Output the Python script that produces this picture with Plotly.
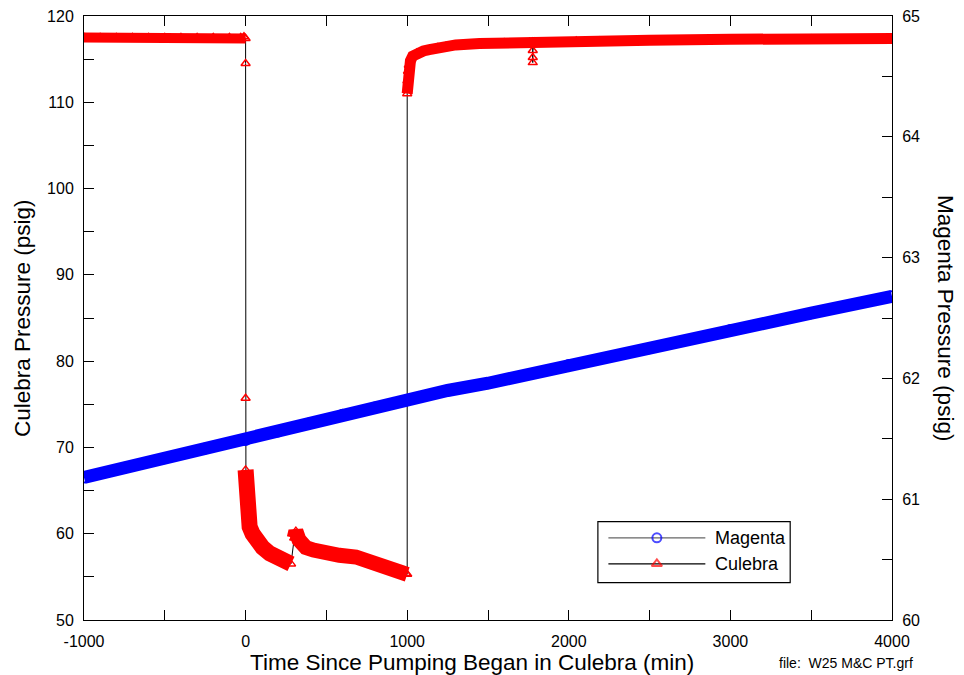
import plotly.graph_objects as go

# ---------------- data ----------------
# Culebra pressure (psig), left axis
pre_t = [-1000, -900, -800, -700, -600, -500, -400, -300, -200, -100, -30, -10, 0]
pre_p = [117.5, 117.5, 117.5, 117.5, 117.5, 117.5, 117.5, 117.5, 117.5, 117.5, 117.5, 117.6, 117.4]

jump_t = [0, 0]
jump_p = [114.5, 75.7]

dd1_t = [0, 2, 5, 12, 25, 43, 70, 105, 150, 188, 230, 281]
dd1_p = [67.4, 65.5, 64.2, 61.9, 60.8, 60.0, 59.1, 58.4, 57.7, 57.3, 56.9, 56.5]

dd2_t = [301, 311, 330, 373, 420, 456, 520, 580, 683, 740, 786, 890, 993, 1000]
dd2_p = [59.5, 60.3, 59.3, 58.4, 58.1, 57.9, 57.6, 57.5, 57.3, 57.0, 56.5, 55.9, 55.4, 55.3]

rec_t = [1000, 1002, 1005, 1010, 1020, 1034, 1060, 1100, 1137, 1190, 1240, 1300,
         1447, 1600, 1757, 1777, 1790, 2046, 2190, 2500, 3000, 3500, 4000]
rec_p = [111.0, 112.5, 113.6, 114.3, 114.8, 115.35, 115.7, 115.95, 116.1, 116.35, 116.5, 116.65,
         116.8, 116.9, 116.95, 117.0, 117.0, 117.1, 117.1, 117.2, 117.3, 117.35, 117.4]

out_t = [1777, 1777, 1777]
out_p = [114.6, 115.2, 116.0]

# Magenta pressure (psig), right axis
mag_t = [-1000, -750, -500, -250, 0, 200, 400, 600, 800, 1000, 1250, 1500,
         2000, 2500, 3000, 3500, 4000]
mag_p = [61.18, 61.26, 61.34, 61.42, 61.49, 61.56, 61.63, 61.70, 61.76, 61.82, 61.90, 61.96,
         62.11, 62.25, 62.40, 62.54, 62.68]

# tick labels
x_ticks = [-1000, -500, 0, 500, 1000, 1500, 2000, 2500, 3000, 3500, 4000]
x_labels = ["-1000", "", "0", "", "1000", "", "2000", "", "3000", "", "4000"]
yl_ticks = [50, 55, 60, 65, 70, 75, 80, 85, 90, 95, 100, 105, 110, 115, 120]
yl_labels = ["50", "", "60", "", "70", "", "80", "", "90", "", "100", "", "110", "", "120"]
yr_ticks = [60, 60.5, 61, 61.5, 62, 62.5, 63, 63.5, 64, 64.5, 65]
yr_labels = ["60", "", "61", "", "62", "", "63", "", "64", "", "65"]

series_names = ["Magenta", "Culebra"]

# ---------------- figure ----------------
FONT = "Arial, Liberation Sans, sans-serif"
RED = "#ff0000"
BLUE = "#0000ff"

# full Culebra series in time order (outliers follow the 1777-min reading)
cul_t = pre_t + jump_t + dd1_t + dd2_t
cul_p = pre_p + jump_p + dd1_p + dd2_p
split = rec_t.index(1777) + 1
cul_t += rec_t[:split] + out_t + rec_t[split:]
cul_p += rec_p[:split] + out_p + rec_p[split:]

fig = go.Figure()

# Culebra: thin black connecting line
fig.add_trace(go.Scatter(x=cul_t, y=cul_p, mode="lines", line=dict(color="black", width=1),
                         showlegend=False, hoverinfo="skip"))
# Culebra: dense marker bands
for seg_t, seg_p, w in [(pre_t, pre_p, 10), (dd1_t, dd1_p, 16), (dd2_t, dd2_p, 15), (rec_t, rec_p, 11)]:
    fig.add_trace(go.Scatter(x=seg_t, y=seg_p, mode="lines", line=dict(color=RED, width=w),
                             showlegend=False, hoverinfo="skip"))
fig.add_trace(go.Scatter(x=cul_t, y=cul_p, mode="markers", showlegend=False,
                         marker=dict(symbol="triangle-up-open", size=8, color=RED,
                                     line=dict(color=RED, width=1.5))))

# Magenta band + markers (right axis)
fig.add_trace(go.Scatter(x=mag_t, y=mag_p, yaxis="y2", mode="lines", line=dict(color=BLUE, width=13),
                         showlegend=False, hoverinfo="skip"))
fig.add_trace(go.Scatter(x=mag_t, y=mag_p, yaxis="y2", mode="markers", showlegend=False,
                         marker=dict(symbol="circle-open", size=10, color=BLUE,
                                     line=dict(color=BLUE, width=2))))

# ---- hand-made legend (plot-paper coordinates via an invisible overlay axis) ----
leg_x = [0.649, 0.709, 0.769]
leg_rows = [(series_names[0], 0.136, "#666666", "circle-open", BLUE, 9),
            (series_names[1], 0.093, "black", "triangle-up-open", RED, 9)]
for name, ly, lc, sym, mc, ms in leg_rows:
    fig.add_trace(go.Scatter(x=leg_x, y=[ly] * 3, xaxis="x3", yaxis="y3", mode="lines+markers",
                             line=dict(color=lc, width=1.2), showlegend=False, hoverinfo="skip",
                             marker=dict(symbol=sym, size=[0, ms, 0], color=mc,
                                         line=dict(color=mc, width=2))))

axis_common = dict(showline=True, linecolor="black", linewidth=1, ticks="inside", ticklen=10,
                   tickcolor="black", showgrid=False, zeroline=False, ticklabeloverflow="allow",
                   automargin=False, tickfont=dict(family=FONT, size=16, color="black"))

fig.update_layout(
    width=956, height=667,
    margin=dict(l=76, r=72, t=8, b=55, autoexpand=False),
    paper_bgcolor="white", plot_bgcolor="white",
    font=dict(family=FONT, color="black"),
    showlegend=False,
    xaxis=dict(range=[-1000, 4000], tickmode="array", tickvals=x_ticks, ticktext=x_labels,
               mirror="ticks", ticklabelstandoff=7, **axis_common),
    yaxis=dict(range=[50, 120], tickmode="array", tickvals=yl_ticks, ticktext=yl_labels,
               ticklabelstandoff=6, **axis_common),
    yaxis2=dict(range=[60, 65], overlaying="y", side="right", tickmode="array",
                tickvals=yr_ticks, ticktext=yr_labels, ticklabelstandoff=6, **axis_common),
    xaxis3=dict(range=[0, 1], overlaying="x", visible=False, fixedrange=True),
    yaxis3=dict(range=[0, 1], overlaying="y", visible=False, fixedrange=True),
    shapes=[dict(type="rect", xref="paper", yref="paper", x0=0.636, x1=0.874, y0=0.062, y1=0.163,
                 line=dict(color="black", width=1.2), fillcolor="white", layer="below")],
    annotations=[
        dict(text=series_names[0], xref="paper", yref="paper", x=0.778, y=0.136,
             xanchor="left", yanchor="middle", showarrow=False, font=dict(family=FONT, size=18)),
        dict(text=series_names[1], xref="paper", yref="paper", x=0.778, y=0.093,
             xanchor="left", yanchor="middle", showarrow=False, font=dict(family=FONT, size=18)),
        dict(text="Time Since Pumping Began in Culebra (min)", xref="paper", yref="paper",
             x=0.480, y=-0.0702, xanchor="center", yanchor="middle", showarrow=False,
             font=dict(family=FONT, size=22.5)),
        dict(text="file:  W25 M&C PT.grf", xref="paper", yref="paper",
             x=1.0285, y=-0.0718, xanchor="right", yanchor="middle", showarrow=False,
             font=dict(family=FONT, size=14)),
        dict(text="Culebra Pressure (psig)", xref="paper", yref="paper",
             x=-0.0767, y=0.5, xanchor="center", yanchor="middle", textangle=-90, showarrow=False,
             font=dict(family=FONT, size=22.5)),
        dict(text="Magenta Pressure (psig)", xref="paper", yref="paper",
             x=1.0668, y=0.5, xanchor="center", yanchor="middle", textangle=90, showarrow=False,
             font=dict(family=FONT, size=22.5)),
    ],
)

fig.write_html("out.html")
